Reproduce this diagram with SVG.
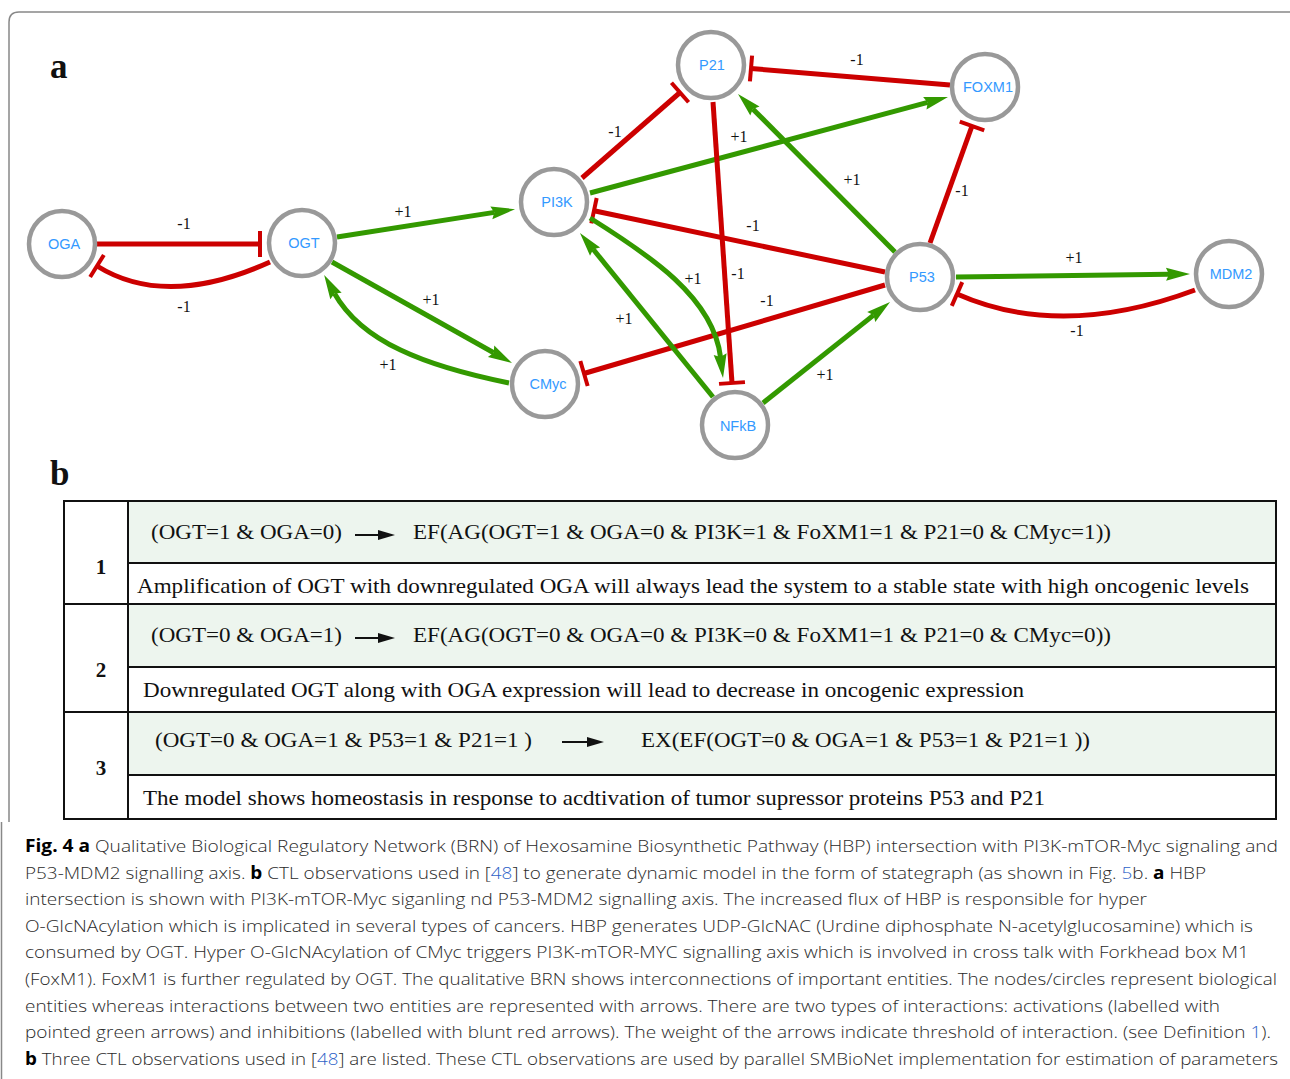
<svg xmlns="http://www.w3.org/2000/svg" width="1290" height="1079" viewBox="0 0 1290 1079">
<style>
.node circle{fill:#fff;stroke:#999;stroke-width:4.5}
.node text{font-family:"Liberation Sans",Arial,sans-serif;font-size:14.5px;fill:#3399ff;text-anchor:middle}
.act{fill:none;stroke:#339900;stroke-width:5;marker-end:url(#arr)}
.inh{fill:none;stroke:#cc0000;stroke-width:5;marker-end:url(#bar)}
.el{font-family:"Liberation Serif","Times New Roman",serif;font-size:16px;fill:#111;text-anchor:middle}
.tt{font-family:"Liberation Serif","Times New Roman",serif;font-size:21px;fill:#111}
.num{font-family:"Liberation Serif","Times New Roman",serif;font-size:21px;font-weight:bold;fill:#111;text-anchor:middle}
.cap{font-family:"Open Sans","Noto Sans",sans-serif;font-size:17px;font-weight:300;fill:#2a2a2a}
.b{font-weight:bold;fill:#000}
.lnk{fill:#2f63c8}
.g{fill:#edf5ee}
.tl{stroke:#111;stroke-width:2;fill:none}
</style>
<defs>
<marker id="arr" markerUnits="userSpaceOnUse" markerWidth="30" markerHeight="20" refX="3" refY="0" orient="auto" viewBox="0 -10 30 20" overflow="visible"><path d="M0,-6.5 L24,0 L0,6.5 L3,0 z" fill="#339900"/></marker>
<marker id="bar" markerUnits="userSpaceOnUse" markerWidth="10" markerHeight="30" refX="0" refY="0" orient="auto" viewBox="-5 -15 10 30" overflow="visible"><path d="M0,-13 V13" stroke="#cc0000" stroke-width="4"/></marker>
</defs>
<rect width="1290" height="1079" fill="#fff"/>
<g id="frame" fill="none" stroke="#888" stroke-width="1.5">
<path d="M9,822 V22 Q9,12 19,12 H1292"/>
<path d="M1.5,822 V1079"/>
</g>
<text x="50" y="78" font-family="Liberation Serif,serif" font-size="35" font-weight="bold" fill="#111">a</text>
<text x="50" y="485" font-family="Liberation Serif,serif" font-size="35" font-weight="bold" fill="#111">b</text>
<g id="connectors">
<path class="inh" d="M97,244 L260,244"/>
<path class="inh" d="M270,262 Q166,309 97,266"/>
<path class="act" d="M337,237 L494.3,212.4"/>
<path class="act" d="M332,262 L493.7,352.7"/>
<path class="act" d="M509,383 C425,366 362,342 334.5,293.4"/>
<path class="inh" d="M582,178 L680,92.5"/>
<path class="act" d="M590,193 L927.7,102.4"/>
<path class="inh" d="M950,85 L751,68.5"/>
<path class="inh" d="M713,102 L732,383"/>
<path class="inh" d="M885,272 L594,210.7"/>
<path class="act" d="M895,252 L752.8,108.9"/>
<path class="inh" d="M930,243 L972,126"/>
<path class="inh" d="M885,285 L584,373.5"/>
<path class="act" d="M956,277 L1169,274.3"/>
<path class="inh" d="M1195,290 Q1061,340 957,294"/>
<path class="act" d="M590,218 C649.4,255.1 713.3,297.5 720.5,357.1"/>
<path class="act" d="M713,397 L593.2,249.3"/>
<path class="act" d="M763,403 L873.6,315.1"/>
</g>
<g id="edge-labels">
<text class="el" x="184" y="229">-1</text>
<text class="el" x="184" y="312">-1</text>
<text class="el" x="403" y="217">+1</text>
<text class="el" x="431" y="305">+1</text>
<text class="el" x="388" y="370">+1</text>
<text class="el" x="615" y="137">-1</text>
<text class="el" x="739" y="142">+1</text>
<text class="el" x="857" y="65">-1</text>
<text class="el" x="738" y="279">-1</text>
<text class="el" x="753" y="231">-1</text>
<text class="el" x="852" y="185">+1</text>
<text class="el" x="962" y="196">-1</text>
<text class="el" x="767" y="306">-1</text>
<text class="el" x="1074" y="263">+1</text>
<text class="el" x="1077" y="336">-1</text>
<text class="el" x="693" y="284">+1</text>
<text class="el" x="624" y="324">+1</text>
<text class="el" x="825" y="380">+1</text>
</g>
<g id="node-OGA" class="node"><circle cx="62" cy="244" r="33"/><text x="64" y="249">OGA</text></g>
<g id="node-OGT" class="node"><circle cx="302" cy="243" r="33"/><text x="304" y="248">OGT</text></g>
<g id="node-PI3K" class="node"><circle cx="554" cy="202" r="33"/><text x="557" y="207">PI3K</text></g>
<g id="node-P21" class="node"><circle cx="711" cy="65" r="33"/><text x="712" y="70">P21</text></g>
<g id="node-FOXM1" class="node"><circle cx="985" cy="87" r="33"/><text x="988" y="92">FOXM1</text></g>
<g id="node-CMyc" class="node"><circle cx="545" cy="384" r="33"/><text x="548" y="389">CMyc</text></g>
<g id="node-NFkB" class="node"><circle cx="735" cy="425" r="33"/><text x="738" y="431">NFkB</text></g>
<g id="node-P53" class="node"><circle cx="920" cy="277" r="33"/><text x="922" y="282">P53</text></g>
<g id="node-MDM2" class="node"><circle cx="1229" cy="274" r="33"/><text x="1231" y="279">MDM2</text></g>
<g id="table">
<rect class="g" x="128" y="501" width="1148" height="62"/>
<rect class="g" x="128" y="604" width="1148" height="63"/>
<rect class="g" x="128" y="712" width="1148" height="63"/>
<rect class="tl" x="64" y="501" width="1212" height="318"/>
<path class="tl" d="M128,501 V819 M64,604 H1276 M64,712 H1276 M128,563 H1276 M128,667 H1276 M128,775 H1276"/>
<text class="num" x="101" y="574">1</text>
<text class="num" x="101" y="677">2</text>
<text class="num" x="101" y="775">3</text>
<text class="tt" x="151" y="539" textLength="191" lengthAdjust="spacingAndGlyphs">(OGT=1 &amp; OGA=0)</text>
<text class="tt" x="413" y="539" textLength="698" lengthAdjust="spacingAndGlyphs">EF(AG(OGT=1 &amp; OGA=0 &amp; PI3K=1 &amp; FoXM1=1 &amp; P21=0 &amp; CMyc=1))</text>
<text class="tt" x="137" y="593" textLength="1112" lengthAdjust="spacingAndGlyphs">Amplification of OGT with downregulated OGA will always lead the system to a stable state with high oncogenic levels</text>
<text class="tt" x="151" y="642" textLength="191" lengthAdjust="spacingAndGlyphs">(OGT=0 &amp; OGA=1)</text>
<text class="tt" x="413" y="642" textLength="698" lengthAdjust="spacingAndGlyphs">EF(AG(OGT=0 &amp; OGA=0 &amp; PI3K=0 &amp; FoXM1=1 &amp; P21=0 &amp; CMyc=0))</text>
<text class="tt" x="143" y="697" textLength="881" lengthAdjust="spacingAndGlyphs">Downregulated OGT along with OGA expression will lead to decrease in oncogenic expression</text>
<text class="tt" x="155" y="747" textLength="377" lengthAdjust="spacingAndGlyphs">(OGT=0 &amp; OGA=1 &amp; P53=1 &amp; P21=1 )</text>
<text class="tt" x="641" y="747" textLength="449" lengthAdjust="spacingAndGlyphs">EX(EF(OGT=0 &amp; OGA=1 &amp; P53=1 &amp; P21=1 ))</text>
<text class="tt" x="143" y="805" textLength="902" lengthAdjust="spacingAndGlyphs">The model shows homeostasis in response to acdtivation of tumor supressor proteins P53 and P21</text>
<g fill="#111" stroke="#111">
<path d="M355,535 H380" stroke-width="2"/><path d="M378,530 L395,535 L378,540 z" stroke="none"/>
<path d="M355,638 H380" stroke-width="2"/><path d="M378,633 L395,638 L378,643 z" stroke="none"/>
<path d="M562,742 H590" stroke-width="2"/><path d="M587,737 L604,742 L587,747 z" stroke="none"/>
</g>
</g>
<g id="caption">
<text class="cap" x="25" y="852" textLength="1253" lengthAdjust="spacingAndGlyphs"><tspan class="b">Fig. 4 a</tspan> Qualitative Biological Regulatory Network (BRN) of Hexosamine Biosynthetic Pathway (HBP) intersection with PI3K-mTOR-Myc signaling and</text>
<text class="cap" x="25" y="878.5" textLength="1181" lengthAdjust="spacingAndGlyphs">P53-MDM2 signalling axis. <tspan class="b">b</tspan> CTL observations used in [<tspan class="lnk">48</tspan>] to generate dynamic model in the form of stategraph (as shown in Fig. <tspan class="lnk">5</tspan>b. <tspan class="b">a</tspan> HBP</text>
<text class="cap" x="25" y="905" textLength="1122" lengthAdjust="spacingAndGlyphs">intersection is shown with PI3K-mTOR-Myc siganling nd P53-MDM2 signalling axis. The increased flux of HBP is responsible for hyper</text>
<text class="cap" x="25" y="931.5" textLength="1228" lengthAdjust="spacingAndGlyphs">O-GlcNAcylation which is implicated in several types of cancers. HBP generates UDP-GlcNAC (Urdine diphosphate N-acetylglucosamine) which is</text>
<text class="cap" x="25" y="958" textLength="1224" lengthAdjust="spacingAndGlyphs">consumed by OGT. Hyper O-GlcNAcylation of CMyc triggers PI3K-mTOR-MYC signalling axis which is involved in cross talk with Forkhead box M1</text>
<text class="cap" x="25" y="985" textLength="1252" lengthAdjust="spacingAndGlyphs">(FoxM1). FoxM1 is further regulated by OGT. The qualitative BRN shows interconnections of important entities. The nodes/circles represent biological</text>
<text class="cap" x="25" y="1011.5" textLength="1195" lengthAdjust="spacingAndGlyphs">entities whereas interactions between two entities are represented with arrows. There are two types of interactions: activations (labelled with</text>
<text class="cap" x="25" y="1038" textLength="1246" lengthAdjust="spacingAndGlyphs">pointed green arrows) and inhibitions (labelled with blunt red arrows). The weight of the arrows indicate threshold of interaction. (see Definition <tspan class="lnk">1</tspan>).</text>
<text class="cap" x="25" y="1065" textLength="1253" lengthAdjust="spacingAndGlyphs"><tspan class="b">b</tspan> Three CTL observations used in [<tspan class="lnk">48</tspan>] are listed. These CTL observations are used by parallel SMBioNet implementation for estimation of parameters</text>
</g>
</svg>
